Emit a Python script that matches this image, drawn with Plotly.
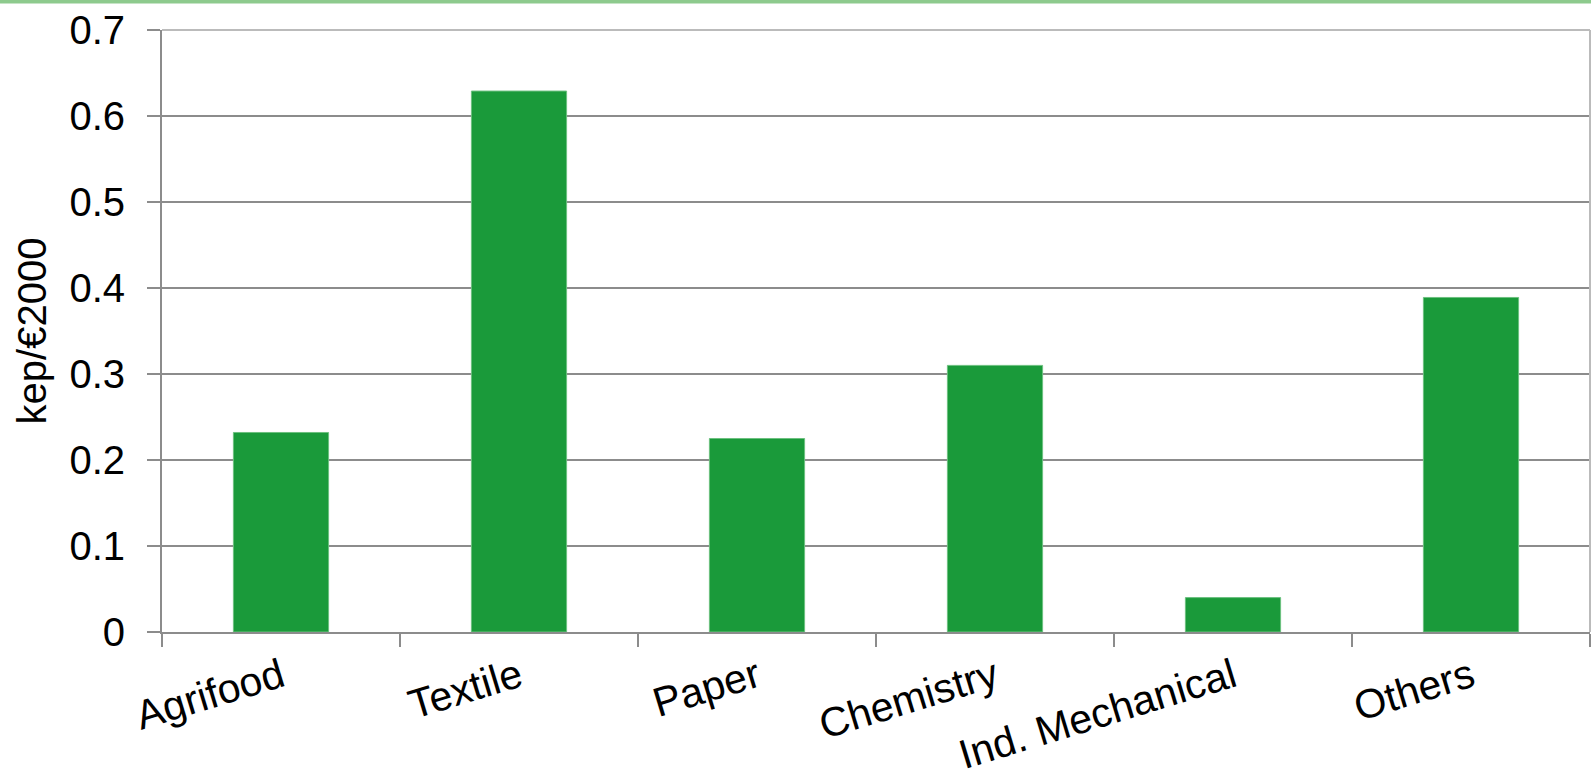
import plotly.graph_objects as go

categories = ["Agrifood", "Textile", "Paper", "Chemistry", "Ind. Mechanical", "Others"]
values = [0.232, 0.629, 0.225, 0.310, 0.040, 0.389]
y_ticks = [0, 0.1, 0.2, 0.3, 0.4, 0.5, 0.6, 0.7]
y_title = "kep/€2000"

FONT = "Liberation Sans, Arial, sans-serif"
GRID = "#8c8c8c"

fig = go.Figure(go.Bar(
    x=categories, y=values,
    marker=dict(color="#1a9a3a", line=dict(color="#6cc07f", width=1)),
))

fig.update_layout(
    width=1591, height=778,
    margin=dict(l=162, r=1, t=30, b=146),
    paper_bgcolor="white", plot_bgcolor="white",
    bargap=0.6,
    showlegend=False,
    font=dict(family=FONT, size=40, color="black"),
    xaxis=dict(
        type="category", tickson="boundaries", automargin=False,
        ticks="outside", ticklen=13, tickwidth=2, tickcolor=GRID,
        showline=True, linecolor=GRID, linewidth=2,
        showgrid=False, tickangle=-17, ticklabelstandoff=3,
        tickfont=dict(family=FONT, size=41, color="black"),
    ),
    yaxis=dict(
        range=[0, 0.7], tickvals=y_ticks, automargin=False,
        ticks="outside", ticklen=13, tickwidth=2, tickcolor=GRID,
        showline=True, linecolor=GRID, linewidth=2,
        showgrid=True, gridcolor=GRID, gridwidth=2,
        zeroline=False, ticklabelstandoff=14,
        tickfont=dict(family=FONT, size=40, color="black"),
        title=dict(text=y_title, font=dict(family=FONT, size=40, color="black"), standoff=10),
    ),
    shapes=[
        dict(type="rect", xref="paper", yref="paper", x0=-0.2, x1=1.1,
             yanchor=1, ysizemode="pixel", y0=26.5, y1=31,
             fillcolor="#8dca8d", line=dict(width=0), layer="above"),
        dict(type="line", xref="paper", yref="paper", x0=0, x1=1, y0=1, y1=1,
             line=dict(color="#bbbbbb", width=2), layer="above"),
        dict(type="line", xref="paper", yref="paper", x0=1, x1=1, y0=0, y1=1,
             line=dict(color="#bbbbbb", width=2), layer="above"),
    ],
)

fig.write_html("out.html")
